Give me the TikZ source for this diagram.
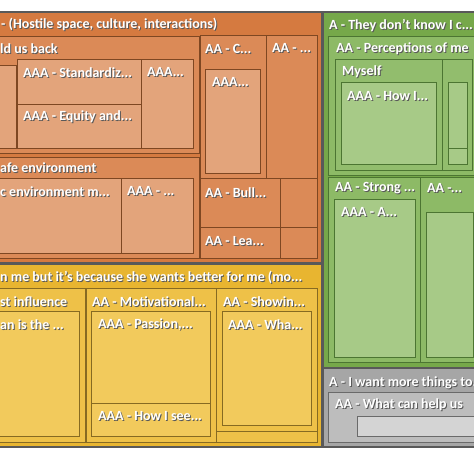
\documentclass[tikz,border=0pt]{standalone}
\usepackage{fontspec}
\setmainfont{Carlito}
\definecolor{oA}{HTML}{D57A40}
\definecolor{oB}{HTML}{DB8A57}
\definecolor{oC}{HTML}{E3A47B}
\definecolor{oL}{HTML}{7E4722}
\definecolor{yA}{HTML}{E8B530}
\definecolor{yB}{HTML}{EEC148}
\definecolor{yC}{HTML}{F2CA5C}
\definecolor{yL}{HTML}{866A22}
\definecolor{gA}{HTML}{76A84A}
\definecolor{gB}{HTML}{8DBA66}
\definecolor{gC}{HTML}{A7CA87}
\definecolor{gL}{HTML}{4C7532}
\definecolor{kA}{HTML}{A6A6A6}
\definecolor{kB}{HTML}{BDBDBD}
\definecolor{kC}{HTML}{D4D4D4}
\definecolor{kL}{HTML}{6A6A6A}
\newcommand\shtxt[1]{\makebox[0pt][l]{\hspace{1pt}\raisebox{-1pt}{\textcolor{black!65}{#1}}}#1}
\tikzset{
  ob/.style={fill=#1, draw=oL, line width=0.9pt},
  yb/.style={fill=#1, draw=yL, line width=0.9pt},
  gb/.style={fill=#1, draw=gL, line width=0.9pt},
  kb/.style={fill=#1, draw=kL, line width=0.9pt},
  outerbox/.style={fill=#1, draw=black!65, line width=1.6pt},
  lbl/.style={anchor=west, inner sep=0pt, text=white, font=\bfseries\fontsize{14}{16}\selectfont}
}
\begin{document}
\begin{tikzpicture}[x=1pt,y=-1pt]
\useasboundingbox (0,0) rectangle (474,474);
\fill[white] (0,0) rectangle (474,474);
\clip (0,0) rectangle (474,474);
% ---------- orange ----------
\draw[outerbox=oA] (-5,12) rectangle (322,263);
\draw[ob=oB] (-20,36) rectangle (199,153);
\draw[ob=oB] (200,35) rectangle (266,178);
\draw[ob=oB] (266,35) rectangle (317,178);
\draw[ob=oB] (200,178) rectangle (280,227);
\draw[ob=oB] (280,178) rectangle (317,227);
\draw[ob=oB] (200,227) rectangle (280,258);
\draw[ob=oB] (280,227) rectangle (317,258);
\draw[ob=oB] (-20,157) rectangle (199,258);
\draw[ob=oC] (-20,65) rectangle (16,148);
\draw[ob=oC] (17,59) rectangle (141,104);
\draw[ob=oC] (17,104) rectangle (141,148);
\draw[ob=oC] (141,59) rectangle (193,148);
\draw[ob=oC] (205,69) rectangle (260,173);
\draw[ob=oC] (-20,178) rectangle (121,253);
\draw[ob=oC] (121,178) rectangle (193,253);
% ---------- yellow ----------
\draw[outerbox=yA] (-5,264) rectangle (322,447);
\draw[yb=yB] (-20,288) rectangle (85,442);
\draw[yb=yB] (86,288) rectangle (216,442);
\draw[yb=yB] (216,288) rectangle (317,431);
\draw[yb=yB] (216,431) rectangle (317,442);
\draw[yb=yC] (-20,311) rectangle (79,436);
\draw[yb=yC] (91,311) rectangle (210,403);
\draw[yb=yC] (91,403) rectangle (210,436);
\draw[yb=yC] (222,311) rectangle (311,425);
% ---------- green ----------
\draw[outerbox=gA] (323,12) rectangle (480,368);
\draw[gb=gB] (328,36) rectangle (480,175);
\draw[gb=gB] (328,177) rectangle (420,362);
\draw[gb=gB] (420,177) rectangle (480,362);
\draw[gb=gB!80!gC] (335,59) rectangle (442,170);
\draw[gb=gB!80!gC] (442,59) rectangle (472,170);
\draw[gb=gC] (341,82) rectangle (436,164);
\draw[gb=gC] (448,82) rectangle (467,148);
\draw[gb=gC] (448,148) rectangle (467,164);
\draw[gb=gC] (334,199) rectangle (415,357);
\draw[gb=gC] (426,212) rectangle (473,357);
% ---------- gray ----------
\draw[outerbox=kA] (323,368) rectangle (480,447);
\draw[kb=kB] (328,392) rectangle (480,442);
\draw[kb=kC] (357,416) rectangle (480,436);
% ---------- labels ----------
\node[lbl] (t1) at (1,25) {\shtxt{- (Hostile space, culture, interactions)}};
\node[lbl] (t2) at (0,49) {\shtxt{ld us back}};
\node[lbl] (t3) at (23,73) {\shtxt{AAA - Standardiz...}};
\node[lbl] (t4) at (147,73) {\shtxt{AAA...}};
\node[lbl] (t5) at (23,117) {\shtxt{AAA - Equity and...}};
\node[lbl] (t6) at (205,49) {\shtxt{AA - C...}};
\node[lbl] (t7) at (272,49) {\shtxt{AA - ...}};
\node[lbl] (t8) at (212,83) {\shtxt{AAA...}};
\node[lbl] (t9) at (205,193) {\shtxt{AA - Bull...}};
\node[lbl] (t10) at (205,242) {\shtxt{AA - Lea...}};
\node[lbl] (t11) at (0,168) {\shtxt{afe environment}};
\node[lbl] (t12) at (0,192) {\shtxt{c environment m...}};
\node[lbl] (t13) at (127,192) {\shtxt{AAA - ...}};
\node[lbl] (t14) at (0,278) {\shtxt{n me but it’s because she wants better for me (mo...}};
\node[lbl] (t15) at (0,302) {\shtxt{st influence}};
\node[lbl] (t16) at (0,325) {\shtxt{an is the ...}};
\node[lbl] (t17) at (92,302) {\shtxt{AA - Motivational...}};
\node[lbl] (t18) at (98,325) {\shtxt{AAA - Passion,...}};
\node[lbl] (t19) at (98,417) {\shtxt{AAA - How I see...}};
\node[lbl] (t20) at (223,302) {\shtxt{AA - Showin...}};
\node[lbl] (t21) at (228,325) {\shtxt{AAA - Wha...}};
\node[lbl] (t22) at (329,26) {\shtxt{A - They don't know I c...}};
\node[lbl] (t23) at (336,49) {\shtxt{AA - Perceptions of me}};
\node[lbl] (t24) at (342,72) {\shtxt{Myself}};
\node[lbl] (t25) at (347,97) {\shtxt{AAA - How I...}};
\node[lbl] (t26) at (335,189) {\shtxt{AA - Strong ...}};
\node[lbl] (t27) at (427,189) {\shtxt{AA -...}};
\node[lbl] (t28) at (341,213) {\shtxt{AAA - A...}};
\node[lbl] (t29) at (329,383) {\shtxt{A - I want more things to...}};
\node[lbl] (t30) at (335,405) {\shtxt{AA - What can help us}};
\end{tikzpicture}
\end{document}
